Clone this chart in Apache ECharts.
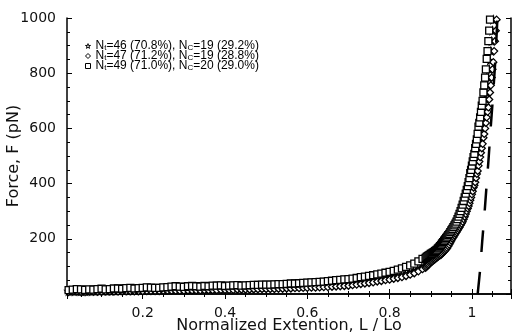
<!DOCTYPE html>
<html><head><meta charset="utf-8">
<script src="https://cdn.jsdelivr.net/npm/echarts@6/dist/echarts.min.js"></script>
<style>html,body{margin:0;padding:0;background:#fff}#c{width:512px;height:333px}</style>
</head><body><div id="c"></div>
<script>
// Normalized extension values (shared by the three data sets)
var xs = [0.02,0.03,0.04,0.05,0.06,0.07,0.08,0.09,0.10,0.11,0.12,0.13,0.14,0.15,0.16,0.17,0.18,0.19,0.20,0.21,0.22,0.23,0.24,0.25,0.26,0.27,0.28,0.29,0.30,0.31,0.32,0.33,0.34,0.35,0.36,0.37,0.38,0.39,0.40,0.41,0.42,0.43,0.44,0.45,0.46,0.47,0.48,0.49,0.50,0.51,0.52,0.53,0.54,0.55,0.56,0.57,0.58,0.59,0.60,0.61,0.62,0.63,0.64,0.65,0.66,0.67,0.68,0.69,0.70,0.71,0.72,0.73,0.74,0.75,0.76,0.77,0.78,0.79,0.80,0.81,0.82,0.83,0.84,0.85,0.86,0.87,0.88,
  0.8875,0.89,0.8925,0.895,0.8975,0.90,0.9025,0.905,0.9075,0.91,0.9125,0.915,0.9175,0.92,0.9225,0.925,0.9275,0.93,0.9325,0.935,0.9375,0.94,0.9425,0.945,0.9475,0.95,0.9525,0.955,0.9575,0.96,0.9625,0.965,0.9675,0.97,0.9725,0.975,0.9775,0.98,0.9825,0.985,0.9875,0.99,
  0.992,0.994,0.996,0.998,1.000,1.002,1.004,1.006,1.008,1.010,1.012,1.014,1.016,1.018,1.020,1.022,1.024,1.026,1.028,1.030,1.032,1.034,1.036,1.038,1.040,1.042,1.044,1.046,1.048,1.050,1.052,1.054,1.056,1.058,1.060,1.062,1.064,1.066,1.068,1.070];
// Force (pN), Nt=46 (stars)
var forceStar = [10,11,11,10,10,11,11,12,12,12,12,13,13,14,14,14,14,15,15,15,15,16,16,16,16,17,17,18,18,18,18,19,19,19,19,20,20,21,21,22,22,22,22,23,23,24,24,25,25,26,26,27,27,28,29,30,30,31,32,33,33,34,35,36,37,39,40,42,43,45,46,48,50,52,54,57,60,63,67,71,75,79,84,90,96,104,112,
  119,122,125,127,130,133,135,138,140,142,145,147,150,152,156,160,164,168,173,179,184,190,195,201,206,212,218,224,230,236,242,249,255,262,271,280,290,300,312,324,337,350,
  361,372,383,394,405,420,435,450,465,480,496,512,528,544,560,580,600,620,640,660,682,705,730,756,784,814,846,880,916,954,994,1035,1078,1122,1168,1215,1263,1312,1362,1413];
// Force (pN), Nt=47 (diamonds)
var forceDiamond = [7,8,8,7,7,8,8,8,8,9,9,9,9,10,10,10,10,10,10,11,11,11,11,12,12,12,12,12,12,13,13,13,13,14,14,14,14,15,15,15,15,16,16,16,16,17,17,18,18,18,18,19,19,20,20,21,21,22,22,23,23,24,25,25,26,27,28,29,30,32,34,36,38,40,42,45,47,50,52,55,58,61,65,70,75,82,90,
  95,99,103,107,111,114,117,120,123,126,129,132,135,138,140,142,146,150,154,158,162,167,173,179,186,193,200,206,212,218,224,230,236,242,249,255,262,271,280,290,300,310,
  319,329,340,350,361,372,386,394,405,420,435,446,465,480,496,512,528,544,566,580,600,620,640,660,676,705,730,756,784,814,840,880,916,954,994,1035,1078,1122,1168,1215];
// Force (pN), Nt=49 (squares)
var forceSquare = [14,16,18,17,15,17,16,18,19,17,18,20,20,19,21,22,20,21,22,24,23,22,22,24,25,27,28,27,26,28,29,28,27,29,28,30,30,31,29,30,31,32,30,31,32,33,33,34,34,34,35,36,36,37,38,38,39,40,41,42,43,44,45,47,48,50,51,53,54,56,58,61,63,66,68,71,74,77,80,84,88,93,98,104,110,118,127,
  131,134,137,140,142,145,147,150,152,155,158,161,165,169,173,178,183,188,193,198,203,208,213,218,224,230,236,242,249,255,262,271,280,290,300,312,324,337,350,364,377,391,
  405,420,438,450,465,480,496,508,528,544,560,580,606,620,640,660,682,700,730,756,784,814,852,880,916,954,994,1035,1078,1122,1168,1215,1263,1312,1362,1413,1465,1518,1572,1627];
// Dashed curve
var dashX = [1.014,1.020,1.025,1.030,1.034,1.038,1.041,1.046,1.050,1.054,1.057,1.062,1.064];
var dashY = [0,90,190,280,360,440,500,610,690,780,850,1000,1060];
// Legend labels
var legendNames = ['Nt=46 (70.8%), NC=19 (29.2%)','Nt=47 (71.2%), NC=19 (28.8%)','Nt=49 (71.0%), NC=20 (29.0%)'];
var legendNt = ['46 (70.8%)','47 (71.2%)','49 (71.0%)'];
var legendNc = ['19 (29.2%)','19 (28.8%)','20 (29.0%)'];
var xTicks = [0.2,0.4,0.6,0.8,1];
var yTicks = [200,400,600,800,1000];

function pairs(x, y){ return x.map(function(v,i){ return [v, y[i]]; }); }

var starPath = 'path://M50,0 L61,35 L98,35 L68,57 L79,91 L50,70 L21,91 L32,57 L2,35 L39,35 Z';
var diamondPath = 'path://M50,0 L100,50 L50,100 L0,50 Z';
var squarePath = 'path://M0,0 L100,0 L100,100 L0,100 Z';

var font = 'DejaVu Sans';
var tickCommon = { show: true, inside: true, length: 5, lineStyle: { color: '#000', width: 1 } };
var minorCommon = { show: true, splitNumber: 4, length: 3, lineStyle: { color: '#000', width: 1 } };
var lineCommon = { show: true, lineStyle: { color: '#000', width: 1.5 } };

function baseX(pos, labels){
  return {
    type: 'value', position: pos, min: 0.016, max: 1.095,
    axisLine: lineCommon, axisTick: tickCommon, minorTick: minorCommon,
    splitLine: { show: false },
    axisLabel: labels ? {
      show: true, margin: 12, color: '#111', fontFamily: font, fontSize: 14,
      formatter: function(v){ var ok = xTicks.some(function(t){ return Math.abs(t - v) < 1e-6; });
        if (!ok) return ''; return Math.abs(v-1) < 1e-6 ? '1' : v.toFixed(1); }
    } : { show: false }
  };
}
function baseY(pos, labels){
  return {
    type: 'value', position: pos, min: 0, max: 1000, interval: 200,
    axisLine: lineCommon, axisTick: tickCommon, minorTick: minorCommon,
    splitLine: { show: false },
    axisLabel: labels ? {
      show: true, margin: 11, color: '#111', fontFamily: font, fontSize: 14,
      formatter: function(v){ return yTicks.indexOf(v) >= 0 ? String(v) : ''; }
    } : { show: false }
  };
}

var xA = baseX('bottom', true);
xA.name = 'Normalized Extention, L / Lo';
xA.nameLocation = 'middle'; xA.nameGap = 24; xA.nameMoveOverlap = false;
xA.nameTextStyle = { fontFamily: font, fontSize: 16, color: '#111', verticalAlign: 'top' };
var yA = baseY('left', true);
yA.name = 'Force, F (pN)';
yA.nameLocation = 'middle'; yA.nameGap = 45; yA.nameMoveOverlap = false;
yA.nameTextStyle = { fontFamily: font, fontSize: 16, color: '#111' };

function scatter(name, sym, y){
  return {
    name: name, type: 'scatter', symbol: sym, symbolSize: 7,
    data: pairs(xs, y), clip: true,
    itemStyle: { color: '#fff', borderColor: '#000', borderWidth: 1.3, opacity: 1 },
    emphasis: { disabled: true }, animation: false
  };
}

var chart = echarts.init(document.getElementById('c'), null, { renderer: 'canvas' });
chart.setOption({
  animation: false,
  backgroundColor: '#fff',
  grid: { left: 67, right: 1, top: 18, bottom: 39, containLabel: false, outerBoundsMode: 'none' },
  xAxis: [xA, baseX('top', false)],
  yAxis: [yA, baseY('right', false)],
  legend: {
    data: legendNames, orient: 'vertical', left: 80, top: 35, padding: 5,
    itemWidth: 5, itemHeight: 5, itemGap: -2,
    itemStyle: { borderWidth: 1 },
    textStyle: { fontFamily: 'Liberation Sans', fontSize: 12, lineHeight: 10, color: '#000',
      rich: {
        a: { fontFamily: 'Liberation Sans', fontSize: 12, color: '#000', lineHeight: 10 },
        b: { fontFamily: 'Liberation Sans', fontSize: 8, color: '#000', lineHeight: 7, padding: [3,0,0,0] }
      }
    },
    formatter: function(name){
      var i = legendNames.indexOf(name);
      return '{a|N}{b|t}{a|=' + legendNt[i] + ', N}{b|C}{a|=' + legendNc[i] + '}';
    }
  },
  series: [
    scatter(legendNames[0], starPath, forceStar),
    scatter(legendNames[1], diamondPath, forceDiamond),
    scatter(legendNames[2], squarePath, forceSquare),
    {
      name: 'dash', type: 'line', data: pairs(dashX, dashY), symbol: 'none', smooth: 0.3,
      lineStyle: { color: '#000', width: 2.5, type: [22, 20] }, clip: true
    }
  ]
});
</script></body></html>
